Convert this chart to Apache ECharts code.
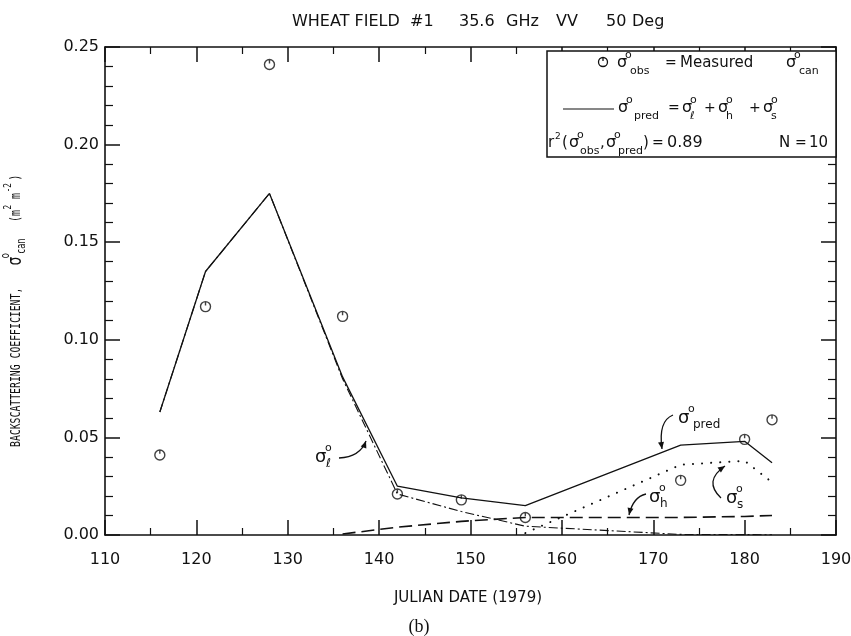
<!DOCTYPE html>
<html>
<head>
<meta charset="utf-8">
<script src="https://cdn.jsdelivr.net/npm/echarts@6/dist/echarts.min.js"></script>
<style>
  html, body { margin: 0; padding: 0; background: #fff; }
  #chart { width: 851px; height: 636px; }
</style>
</head>
<body>
<div id="chart"></div>
<script>
// Wheat field #1, 35.6 GHz VV at 50 deg: measured vs. predicted canopy backscatter
const julianDates = [116, 121, 128, 136, 142, 149, 156, 173, 180, 183];
const sigmaObs    = [0.041, 0.117, 0.241, 0.112, 0.021, 0.018, 0.009, 0.028, 0.049, 0.059];
const sigmaPred   = [0.063, 0.135, 0.175, 0.081, 0.025, 0.019, 0.015, 0.046, 0.048, 0.037];
const sigmaLeaf   = [0.063, 0.135, 0.175, 0.080, 0.021, 0.012, 0.0045, 0.0003, 0.0002, 0.0001];
const sigmaHead   = [null, null, null, 0.0005, 0.004, 0.007, 0.009, 0.009, 0.0095, 0.010];
const sigmaSoil   = [null, null, null, null, null, null, 0.001, 0.036, 0.038, 0.027];

const xTickLabels = ['110', '120', '130', '140', '150', '160', '170', '180', '190'];
const yTickLabels = ['0.00', '0.05', '0.10', '0.15', '0.20', '0.25'];

const INK = '#111';
const SANS = 'DejaVu Sans';
const MONO = 'DejaVu Sans Mono';

const pairs = vals => julianDates
  .map((d, i) => (vals[i] == null ? null : [d, vals[i]]))
  .filter(Boolean);

// text measuring for hand-set formula labels
const mctx = document.createElement('canvas').getContext('2d');
function textWidth(str, size, fam) {
  mctx.font = size + 'px "' + fam + '"';
  return mctx.measureText(str).width;
}

function txt(x, y, str, size, fam, align) {
  return {
    type: 'text', x: x, y: y, z: 20,
    style: { text: str, fontSize: size, fontFamily: fam || SANS, fill: INK,
             align: align || 'left', verticalAlign: 'middle' }
  };
}

// sigma with a superscript "o" and a subscript
function sig(x, y, sub, opt) {
  const o = Object.assign({ s: 16, sup: 11, sb: 11, dxSup: 8, dySup: -8, dxSub: 13, dySub: 8 }, opt || {});
  return [
    txt(x, y, 'σ', o.s, SANS),
    txt(x + o.dxSup, y + o.dySup, 'o', o.sup, SANS),
    txt(x + o.dxSub, y + o.dySub, sub, o.sb, SANS)
  ];
}

// curved pointer with a filled head at its end
function pointer(p1, cp, p2) {
  const a = Math.atan2(p2[1] - cp[1], p2[0] - cp[0]);
  const L = 7, W = 3;
  const bx = p2[0] - L * Math.cos(a), by = p2[1] - L * Math.sin(a);
  const nx = -Math.sin(a), ny = Math.cos(a);
  return [
    { type: 'bezierCurve', z: 20,
      shape: { x1: p1[0], y1: p1[1], x2: p2[0], y2: p2[1], cpx1: cp[0], cpy1: cp[1] },
      style: { stroke: INK, lineWidth: 1.3, fill: 'none' } },
    { type: 'polygon', z: 20,
      shape: { points: [[p2[0], p2[1]], [bx + nx * W, by + ny * W], [bx - nx * W, by - ny * W]] },
      style: { fill: INK } }
  ];
}

// rotated y-axis title: BACKSCATTERING COEFFICIENT, σ°can (m² m⁻²)
function yTitle() {
  const base = 'BACKSCATTERING COEFFICIENT,';
  const w1 = textWidth(base, 14, MONO);
  const kids = [txt(0, 0, base, 14, MONO)];
  const sx = w1 + 32;
  kids.push(txt(sx, 0, 'σ', 19, SANS));
  kids.push(txt(sx + 10, -10, 'o', 12, SANS));
  kids.push(txt(sx + 17, 6, 'can', 12, SANS));
  const ux = sx + 62;
  kids.push(txt(ux, 0, '(m', 14, MONO));
  const wm = textWidth('(m', 14, MONO);
  kids.push(txt(ux + wm + 1, -8, '2', 11, MONO));
  kids.push(txt(ux + wm + 16, 0, 'm', 14, MONO));
  const wm2 = textWidth('m', 14, MONO);
  kids.push(txt(ux + wm + 16 + wm2 + 1, -8, '-2', 11, MONO));
  kids.push(txt(ux + wm + 16 + wm2 + 18, 0, ')', 14, MONO));
  return { type: 'group', x: 16, y: 447, rotation: Math.PI / 2, scaleX: 0.7, children: kids };
}

// observation marker: open circle with a short stroke at the top
const OBS_SYMBOL = 'path://M10,1 A9,9 0 1,1 9.99,1 Z M10,1 L10,8';

const graphics = [];
// title
graphics.push(txt(292, 22, 'WHEAT FIELD', 16, SANS));
graphics.push(txt(410, 22, '#1', 16, SANS));
graphics.push(txt(459, 22, '35.6', 16, SANS));
graphics.push(txt(506, 22, 'GHz', 16, SANS));
graphics.push(txt(556, 22, 'VV', 16, SANS));
graphics.push(txt(606, 22, '50', 16, SANS));
graphics.push(txt(632, 22, 'Deg', 16, SANS));
// axis titles
graphics.push(txt(468, 598, 'JULIAN DATE (1979)', 15, SANS, 'center'));
graphics.push(txt(419, 627, '(b)', 18, 'Liberation Serif', 'center'));
graphics.push(yTitle());

// key box
graphics.push({ type: 'rect', z: 15, shape: { x: 547, y: 51, width: 289, height: 106 },
  style: { fill: '#fff', stroke: INK, lineWidth: 1.5 } });
graphics.push({ type: 'circle', z: 20, shape: { cx: 603, cy: 62, r: 4.5 }, style: { fill: 'none', stroke: INK, lineWidth: 1.3 } });
graphics.push({ type: 'line', z: 20, shape: { x1: 603, y1: 57.5, x2: 603, y2: 61 }, style: { stroke: INK, lineWidth: 1.3 } });
graphics.push(...sig(617, 63, 'obs'));
graphics.push(txt(665, 63, '=', 14, SANS));
graphics.push(txt(680, 63, 'Measured', 15, SANS));
graphics.push(...sig(786, 63, 'can'));

graphics.push({ type: 'line', z: 20, shape: { x1: 563, y1: 109, x2: 614, y2: 109 }, style: { stroke: INK, lineWidth: 1.1 } });
graphics.push(...sig(618, 108, 'pred', { dxSub: 16 }));
graphics.push(txt(668, 108, '=', 14, SANS));
graphics.push(...sig(682, 108, 'ℓ', { dxSub: 8 }));
graphics.push(txt(704, 108, '+', 14, SANS));
graphics.push(...sig(718, 108, 'h', { dxSub: 8 }));
graphics.push(txt(749, 108, '+', 14, SANS));
graphics.push(...sig(763, 108, 's', { dxSub: 8 }));

graphics.push(txt(548, 143, 'r', 15, SANS));
graphics.push(txt(555, 137, '2', 9, SANS));
graphics.push(txt(562, 143, '(', 15, SANS));
graphics.push(...sig(569, 143, 'obs', { dxSub: 11 }));
graphics.push(txt(600, 143, ',', 15, SANS));
graphics.push(...sig(606, 143, 'pred', { dxSub: 12 }));
graphics.push(txt(643, 143, ')', 15, SANS));
graphics.push(txt(652, 143, '=', 14, SANS));
graphics.push(txt(667, 143, '0.89', 16, SANS));
graphics.push(txt(779, 143, 'N', 15, SANS));
graphics.push(txt(795, 143, '=', 14, SANS));
graphics.push(txt(809, 143, '10', 15, SANS));

// curve labels
const big = { s: 18, sup: 11, sb: 12, dxSup: 10, dySup: -9, dxSub: 11, dySub: 7 };
graphics.push(...sig(315, 457, 'ℓ', big));
graphics.push(...pointer([339, 458], [360, 457], [366, 441]));
graphics.push(...sig(678, 418, 'pred', Object.assign({}, big, { dxSub: 15 })));
graphics.push(...pointer([673, 415], [658, 421], [662, 449]));
graphics.push(...sig(649, 497, 'h', big));
graphics.push(...pointer([646, 494], [633, 497], [629, 515]));
graphics.push(...sig(726, 498, 's', big));
graphics.push(...pointer([721, 498], [703, 481], [725, 466]));

const axisBase = {
  type: 'value',
  axisLine: { show: true, onZero: false, lineStyle: { color: INK, width: 1.6 } },
  axisTick: { show: true, inside: true, length: 15, lineStyle: { color: INK, width: 1.5 } },
  splitLine: { show: false },
  minorSplitLine: { show: false }
};

const option = {
  animation: false,
  backgroundColor: '#fff',
  grid: { left: 105, right: 15, top: 47, bottom: 101, containLabel: false, outerBoundsMode: 'none' },
  xAxis: [
    Object.assign({}, axisBase, {
      position: 'bottom', min: 110, max: 190, interval: 10,
      minorTick: { show: true, splitNumber: 2, length: 7, lineStyle: { color: INK, width: 1.2 } },
      axisLabel: { show: true, showMinLabel: true, showMaxLabel: true, margin: 17,
        fontFamily: SANS, fontSize: 16, color: INK,
        formatter: v => xTickLabels[Math.round((v - 110) / 10)] }
    }),
    Object.assign({}, axisBase, {
      position: 'top', min: 110, max: 190, interval: 10,
      minorTick: { show: true, splitNumber: 2, length: 7, lineStyle: { color: INK, width: 1.2 } },
      axisLabel: { show: false }
    })
  ],
  yAxis: [
    Object.assign({}, axisBase, {
      position: 'left', min: 0, max: 0.25, interval: 0.05,
      minorTick: { show: true, splitNumber: 5, length: 8, lineStyle: { color: INK, width: 1.2 } },
      axisLabel: { show: true, showMinLabel: true, showMaxLabel: true, margin: 6,
        fontFamily: SANS, fontSize: 16, color: INK,
        formatter: v => yTickLabels[Math.round(v / 0.05)] }
    }),
    Object.assign({}, axisBase, {
      position: 'right', min: 0, max: 0.25, interval: 0.05,
      minorTick: { show: true, splitNumber: 5, length: 8, lineStyle: { color: INK, width: 1.2 } },
      axisLabel: { show: false }
    })
  ],
  series: [
    { name: 'pred', type: 'line', data: pairs(sigmaPred), symbol: 'none', z: 4,
      lineStyle: { color: INK, width: 1.3 } },
    { name: 'leaf', type: 'line', data: pairs(sigmaLeaf), symbol: 'none', z: 3,
      lineStyle: { color: INK, width: 1.1, type: [9, 3, 2, 3] } },
    { name: 'head', type: 'line', data: pairs(sigmaHead), symbol: 'none', z: 3,
      lineStyle: { color: INK, width: 1.6, type: [13, 6] } },
    { name: 'soil', type: 'line', data: pairs(sigmaSoil), symbol: 'none', z: 3,
      lineStyle: { color: INK, width: 2, type: [0.1, 9], cap: 'round' } },
    { name: 'obs', type: 'scatter', data: pairs(sigmaObs), symbol: OBS_SYMBOL, symbolSize: 10, z: 5,
      itemStyle: { color: 'rgba(0,0,0,0)', borderColor: INK, borderWidth: 1.4 } }
  ],
  graphic: { elements: graphics }
};

const chart = echarts.init(document.getElementById('chart'), null, { renderer: 'canvas' });
chart.setOption(option);
</script>
</body>
</html>
